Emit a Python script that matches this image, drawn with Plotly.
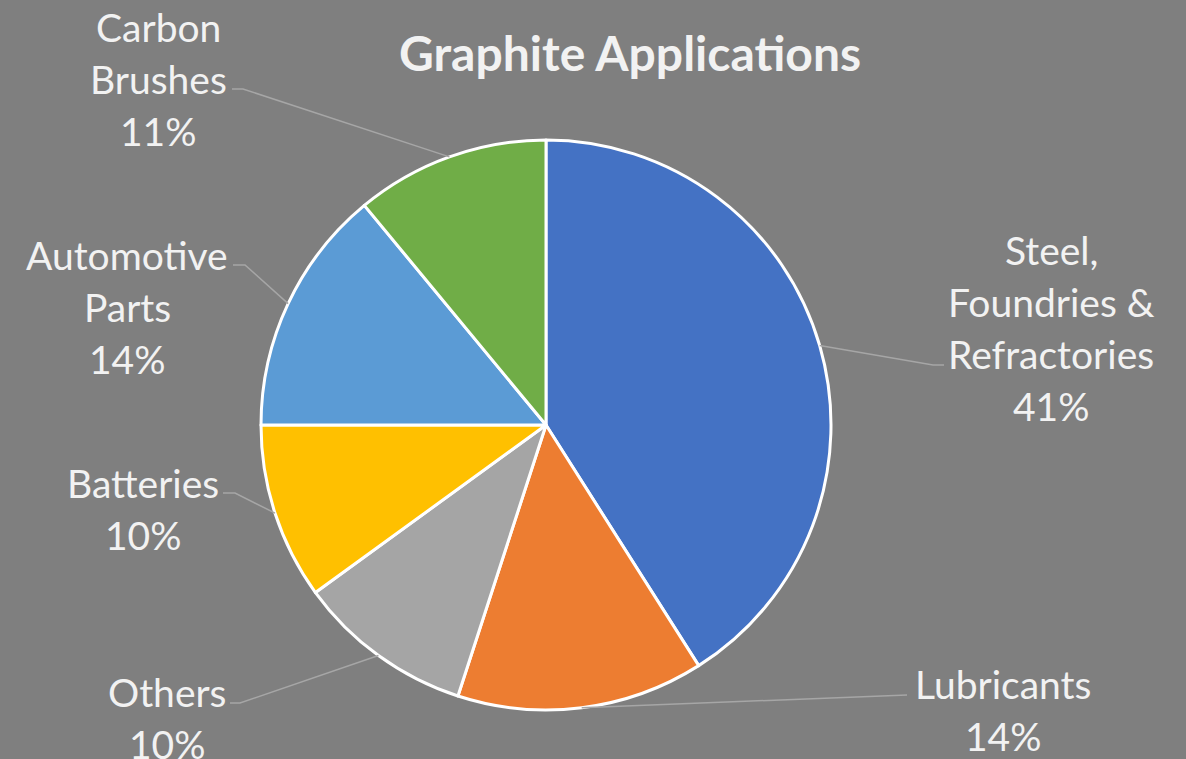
import math
import plotly.graph_objects as go

# ---- data ----
categories = ["Steel,<br>Foundries &<br>Refractories", "Lubricants", "Others",
              "Batteries", "Automotive<br>Parts", "Carbon<br>Brushes"]
values = [41, 14, 10, 10, 14, 11]
colors = ["#4472C4", "#ED7D31", "#A5A5A5", "#FFC000", "#5B9BD5", "#70AD47"]
title_text = "Graphite Applications"

# ---- layout (pixels) ----
W, H = 1186, 759
CX, CY, R = 546, 425, 285
BG = "#7F7F7F"
TXT = "#F2F2F2"
LINE_SP = 52
FONT = "Lato, Calibri, Carlito, sans-serif"
# first-line center of each label block, leader elbow points
label_pos = [(1051, 250), (1003, 684), (167, 692), (143, 483), (127, 255), (158, 27)]
elbows = [[(933, 365), (944, 365)],
          [(907, 695)],
          [(240, 703), (230, 703)],
          [(235, 493), (223, 493)],
          [(245, 265), (233, 265)],
          [(243, 89), (232, 89)]]


def px(x, y):
    return x / W, 1 - y / H


x0, y0 = px(CX - R, CY + R)
x1, y1 = px(CX + R, CY - R)

fig = go.Figure(go.Pie(
    labels=[c.replace("<br>", " ") for c in categories],
    values=values,
    sort=False,
    direction="clockwise",
    rotation=0,
    marker=dict(colors=colors, line=dict(color="white", width=3)),
    textinfo="none",
    hoverinfo="label+percent",
    showlegend=False,
    domain=dict(x=[x0, x1], y=[y0, y1]),
))

total = sum(values)
annotations = []
shapes = []
cum = 0
for cat, v, (lx, ly), elb in zip(categories, values, label_pos, elbows):
    mid = (cum + v / 2) / total * 2 * math.pi
    cum += v
    sx = CX + R * math.sin(mid)
    sy = CY - R * math.cos(mid)
    pts = [(sx, sy)] + elb
    path = "M " + " L ".join(f"{px(a, b)[0]},{px(a, b)[1]}" for a, b in pts)
    shapes.append(dict(type="path", path=path, xref="paper", yref="paper",
                       line=dict(color="#A6A6A6", width=1.5)))
    lines = cat.split("<br>") + [f"{round(100 * v / total)}%"]
    for i, t in enumerate(lines):
        ax, ay = px(lx, ly + i * LINE_SP)
        annotations.append(dict(text=t, x=ax, y=ay, xref="paper", yref="paper",
                                xanchor="center", yanchor="middle", showarrow=False,
                                font=dict(family=FONT, size=39, color=TXT)))

tx, ty = px(630, 53)
annotations.append(dict(text="<b>" + title_text + "</b>", x=tx, y=ty, xref="paper",
                        yref="paper", xanchor="center", yanchor="middle",
                        showarrow=False, font=dict(family=FONT, size=48, color=TXT)))

fig.update_layout(
    width=W, height=H,
    margin=dict(l=0, r=0, t=0, b=0),
    paper_bgcolor=BG, plot_bgcolor=BG,
    annotations=annotations, shapes=shapes,
)
fig.write_html(
    "out.html",
    config={"displayModeBar": False},
    post_script="document.body.style.margin='0';document.body.style.overflow='hidden';",
)
